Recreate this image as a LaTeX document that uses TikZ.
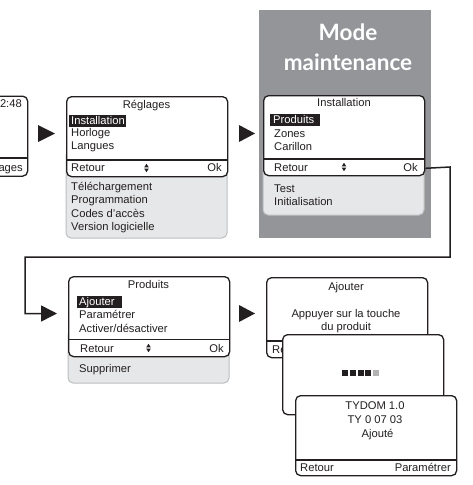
\documentclass[tikz,border=0pt]{standalone}
\usepackage{fontspec}
\setmainfont{Liberation Sans}
\newfontfamily\latofont{Lato}
\usetikzlibrary{arrows.meta,calc}
\definecolor{ink}{HTML}{231F20}
\definecolor{panel}{HTML}{939598}
\definecolor{extfill}{HTML}{E6E7E8}
\definecolor{extline}{HTML}{BCBEC0}
\definecolor{dotlight}{HTML}{B3B3B3}
\begin{document}
\begin{tikzpicture}[x=1pt,y=-1pt,
  screen/.style={draw=ink,line width=1.3pt,fill=white,rounded corners=5pt,
    minimum width=161pt,minimum height=80pt,inner sep=0pt,anchor=north west},
  extbox/.style={draw=extline,line width=1pt,fill=extfill,rounded corners=5pt},
  sepline/.style={draw=ink,line width=1.1pt},
  txt/.style={anchor=base west,inner sep=0pt,font=\fontsize{11.2}{13}\selectfont,text=ink},
  ctxt/.style={txt,anchor=base},
  rtxt/.style={txt,anchor=base east},
  seltxt/.style={txt,text=white},
  hl/.style={fill=ink},
  tri/.style={fill=ink},
  conn/.style={draw=ink,line width=1.5pt,-{Triangle[length=16pt,width=16pt]}},
  updown/.pic={\fill[ink] (-2.3,-0.6)--(2.3,-0.6)--(0,-4.2)--cycle;
               \fill[ink] (-2.3,0.6)--(2.3,0.6)--(0,4.2)--cycle;},
  sq/.style={fill=ink},
]
\useasboundingbox (0,0) rectangle (473,485);
\fill[white] (0,0) rectangle (473,485);
\clip (0,0) rectangle (473,485);

% ---------- screen A (partial) ----------
\node[screen] (A) at (-134,95.5) {};
\draw[sepline] (A.west |- 0,158) -- (A.east |- 0,158);
\node[rtxt] (a1) at (22,107.5) {2:48};
\node[rtxt] (a2) at (23,171) {ages};

\fill[tri] (38,125)--(55,133.5)--(38,142)--cycle;

% ---------- screen B : Reglages ----------
\draw[extbox] (66,150) rectangle (227,238);
\node[screen] (B) at (66,96) {};
\draw[sepline] (B.west |- 0,160) -- (B.east |- 0,160);
\node[ctxt] (b0) at (146.5,108) {Réglages};
\fill[hl] (69,115) rectangle (126,127);
\node[seltxt] (b1) at (71,124.5) {Installation};
\node[txt] (b2) at (71,136.5) {Horloge};
\node[txt] (b3) at (71,149.5) {Langues};
\node[txt] (b4) at (71,171.5) {Retour};
\node[rtxt] (b5) at (222,171.5) {Ok};
\pic at (146.5,168) {updown};
\node[txt] (b6) at (71,190) {Téléchargement};
\node[txt] (b7) at (71,203.5) {Programmation};
\node[txt] (b8) at (71,217) {Codes d'accès};
\node[txt] (b9) at (71,230.5) {Version logicielle};

\fill[tri] (239,125)--(255,133.5)--(239,142)--cycle;

% ---------- maintenance panel ----------
\fill[panel] (259,10) rectangle (431,238);
\node[inner sep=0pt,align=center,text=white,
  font=\latofont\bfseries\fontsize{22.5}{30}\selectfont] (mode) at (348,47) {Mode\\maintenance};

% ---------- screen C : Installation ----------
\draw[extbox] (263,150) rectangle (424,215);
\node[screen] (C) at (263,95) {};
\draw[sepline] (C.west |- 0,159) -- (C.east |- 0,159);
\node[ctxt] (c0) at (344,106.5) {Installation};
\fill[hl] (270,114) rectangle (320,126);
\node[seltxt] (c1) at (273,123.5) {Produits};
\node[txt] (c2) at (274,137) {Zones};
\node[txt] (c3) at (274,150.5) {Carillon};
\node[txt] (c4) at (274,171) {Retour};
\node[rtxt] (c5) at (418,171) {Ok};
\pic at (344,167) {updown};
\node[txt] (c6) at (274,192) {Test};
\node[txt] (c7) at (274,205.5) {Initialisation};

% ---------- connector ----------
\coordinate (k0) at ($(C.south east)+(0,-8)$);
\coordinate (k1) at (450,167);
\coordinate (k2) at (450,257);
\coordinate (k3) at (25,257);
\coordinate (k4) at (25,313.5);
\coordinate (tip) at (57,313.5);
\draw[conn] (k0) -- (k1) -- (k2) -- (k3) -- (k4) -- (tip);

% ---------- screen D : Produits ----------
\draw[extbox] (68,330) rectangle (229,383);
\node[screen] (D) at (68,276) {};
\draw[sepline] (D.west |- 0,339.5) -- (D.east |- 0,339.5);
\node[ctxt] (d0) at (148.5,288.5) {Produits};
\fill[hl] (77,295.5) rectangle (122,307.5);
\node[seltxt] (d1) at (79,305) {Ajouter};
\node[txt] (d2) at (79,318.5) {Paramétrer};
\node[txt] (d3) at (79,332) {Activer/désactiver};
\node[txt] (d4) at (80,352) {Retour};
\node[rtxt] (d5) at (224,352) {Ok};
\pic at (148.5,348) {updown};
\node[txt] (d6) at (79,372) {Supprimer};

\fill[tri] (239,305)--(255,313.5)--(239,322)--cycle;

% ---------- screen E : Ajouter ----------
\node[screen] (E) at (266,277) {};
\draw[sepline] (E.west |- 0,341) -- (E.east |- 0,341);
\node[ctxt] (e0) at (346,290) {Ajouter};
\node[ctxt] (e1) at (346,317) {Appuyer sur la touche};
\node[ctxt] (e2) at (346,330.5) {du produit};
\node[txt] (e3) at (272,353) {Retour};

% ---------- screen F : progress ----------
\node[screen] (F) at (282,334) {};
\fill[sq] (342,370) rectangle ++(6,6);
\fill[sq] (349.75,370) rectangle ++(6,6);
\fill[sq] (357.5,370) rectangle ++(6,6);
\fill[sq] (365.25,370) rectangle ++(6,6);
\fill[dotlight] (373,370) rectangle ++(6,6);

% ---------- screen G : result ----------
\node[screen] (G) at (295,395) {};
\draw[sepline] (G.west |- 0,460) -- (G.east |- 0,460);
\node[ctxt] (g0) at (375,409.5) {TYDOM 1.0};
\node[ctxt] (g1) at (375,423) {TY 0 07 03};
\node[ctxt] (g2) at (377.5,437.5) {Ajouté};
\node[txt] (g3) at (300,471.5) {Retour};
\node[rtxt] (g4) at (451,471.5) {Paramétrer};
\end{tikzpicture}
\end{document}
